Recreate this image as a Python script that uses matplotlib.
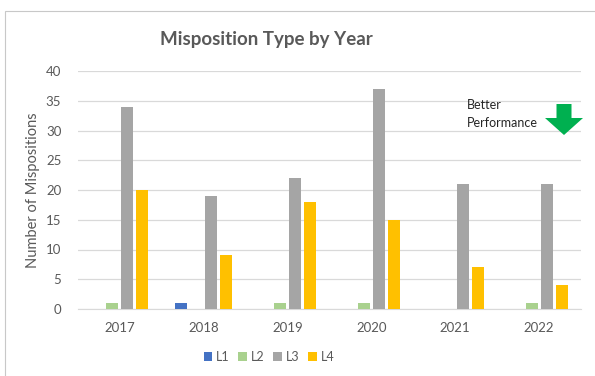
import matplotlib
matplotlib.use("Agg")
import matplotlib.pyplot as plt
import numpy as np
from matplotlib.patches import Rectangle, FancyArrow

plt.rcParams['font.family'] = ['Lato', 'DejaVu Sans']

years = ["2017", "2018", "2019", "2020", "2021", "2022"]
series_names = ["L1", "L2", "L3", "L4"]
l1 = [0, 1, 0, 0, 0, 0]
l2 = [1, 0, 1, 1, 0, 1]
l3 = [34, 19, 22, 37, 21, 21]
l4 = [20, 9, 18, 15, 7, 4]
colors = ["#4472C4", "#A9D18E", "#A5A5A5", "#FFC000"]

W, H = 595, 376
fig = plt.figure(figsize=(W / 100, H / 100), dpi=100)

# chart frame
fig.patches.append(Rectangle((5 / W, -0.05), 1.2, 1 - 11 / H + 0.05,
                             transform=fig.transFigure, fill=False,
                             edgecolor="#C8C8C8", linewidth=0.8))

ax = fig.add_axes([78 / W, 1 - 309 / H, (581 - 78) / W, (309 - 71) / H])

x = np.arange(len(years))
bw = 0.143
pitch = 0.179
for i, (vals, c) in enumerate(zip([l1, l2, l3, l4], colors)):
    ax.bar(x + (i - 1.5) * pitch, vals, width=bw, color=c, label=series_names[i], zorder=3)

ax.set_xlim(-0.5, len(years) - 0.5)
ax.set_ylim(0, 40)
ax.set_yticks(range(0, 41, 5))
ax.set_xticks(x)
ax.set_xticklabels(years)
ax.grid(axis="y", color="#D9D9D9", linewidth=0.9, zorder=0)
for s in ["top", "right", "left"]:
    ax.spines[s].set_visible(False)
ax.spines["bottom"].set_color("#D9D9D9")
ax.tick_params(axis="both", length=0, colors="#595959", labelsize=9.5)
ax.tick_params(axis="x", pad=9)
ax.tick_params(axis="y", pad=12)
ax.set_ylabel("Number of Mispositions", color="#595959", fontsize=10.5, labelpad=4)

fig.text(266 / W, 1 - 40 / H, "Misposition Type by Year", ha="center", va="center",
         fontsize=13.5, fontweight="bold", color="#595959")

leg = fig.legend(loc="center", bbox_to_anchor=(269 / W, 1 - 357 / H), ncol=4,
                 frameon=False, fontsize=9, handlelength=0.7, handleheight=0.7,
                 columnspacing=0.7, handletextpad=0.3)
for t in leg.get_texts():
    t.set_color("#595959")

fig.text(467 / W, 1 - 114 / H, "Better\nPerformance", ha="left", va="center",
         fontsize=9, color="#262626", linespacing=1.6)

# green down arrow
cx = 564
arrow = FancyArrow(cx / W, 1 - 104 / H, 0, -(135 - 104) / H, width=15 / W,
                   head_width=38 / W, head_length=17 / H, length_includes_head=True,
                   transform=fig.transFigure, color="#00B050", linewidth=0)
fig.patches.append(arrow)

fig.savefig("out.png", dpi=100)
